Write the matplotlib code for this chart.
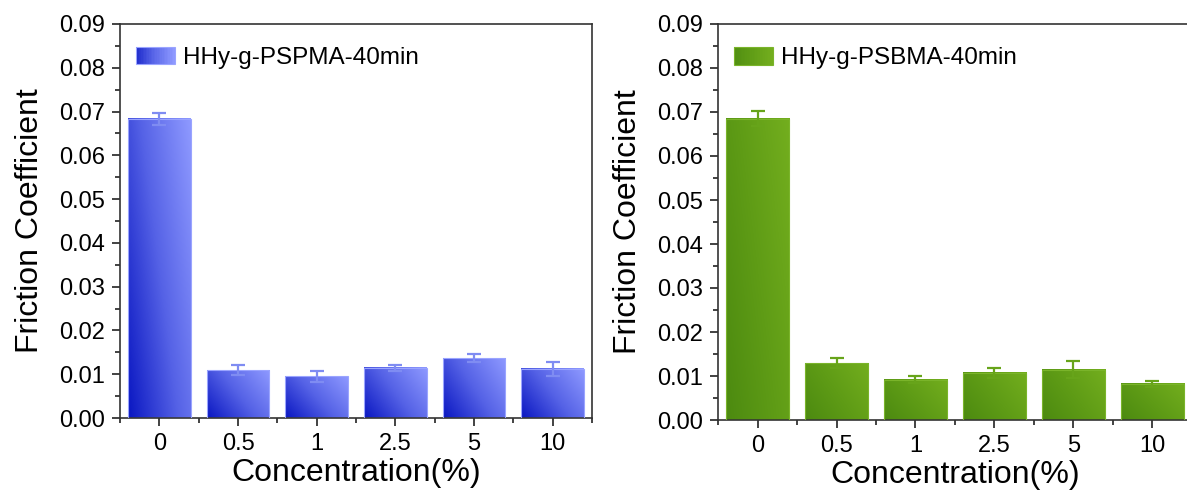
import numpy as np
import matplotlib
matplotlib.use('Agg')
import matplotlib.pyplot as plt
from matplotlib.colors import LinearSegmentedColormap
from matplotlib.legend_handler import HandlerBase
from matplotlib.patches import Rectangle
from matplotlib.ticker import MultipleLocator, FixedLocator

plt.rcParams['font.family'] = ['Liberation Sans', 'DejaVu Sans']

categories = ['0', '0.5', '1', '2.5', '5', '10']
pspma_vals = [0.0683, 0.0109, 0.0095, 0.0115, 0.0137, 0.0112]
pspma_err = [0.0014, 0.0011, 0.0013, 0.0007, 0.0010, 0.0017]
psbma_vals = [0.0685, 0.0129, 0.0092, 0.0107, 0.0114, 0.0082]
psbma_err = [0.0017, 0.0011, 0.0007, 0.0011, 0.0019, 0.0007]

blue_cmap = LinearSegmentedColormap.from_list('blue', ['#0a17c2', '#5562e6', '#8e99ff'])
green_cmap = LinearSegmentedColormap.from_list('green', ['#4c8a10', '#5f9c16', '#73ae1e'])


class GradHandler(HandlerBase):
    def __init__(self, cmap, edge):
        super().__init__()
        self.cmap = cmap
        self.edge = edge

    def create_artists(self, legend, orig_handle, xdescent, ydescent,
                       width, height, fontsize, trans):
        n = 24
        arts = []
        for i in range(n):
            r = Rectangle((-xdescent + i * width / n, -ydescent), width / n + 0.3, height,
                          facecolor=self.cmap(0.15 + 0.85 * i / (n - 1)), edgecolor='none',
                          transform=trans)
            arts.append(r)
        arts.append(Rectangle((-xdescent, -ydescent), width, height, facecolor='none',
                              edgecolor=self.edge, lw=0.8, transform=trans))
        return arts


def draw_panel(ax, vals, errs, cmap, edge, errcol, label):
    x = np.arange(len(categories))
    w = 0.8
    bars = ax.bar(x, vals, width=w, color='none', edgecolor=edge, linewidth=0.8,
                  zorder=3, label=label)
    uu, vv = np.meshgrid(np.linspace(0, 1, 60), np.linspace(0, 1, 120))
    grad = 0.62 * uu + 0.38 * vv
    for b in bars:
        x0, h = b.get_x(), b.get_height()
        ax.imshow(grad, cmap=cmap, extent=[x0, x0 + w, 0, h], origin='lower',
                  aspect='auto', zorder=2, vmin=0, vmax=1, interpolation='bilinear')
    ax.errorbar(x, vals, yerr=errs, fmt='none', ecolor=errcol, elinewidth=1.6,
                capsize=5, capthick=1.6, zorder=4)
    ax.set_xlim(-0.5, len(categories) - 0.5)
    ax.set_ylim(0, 0.09)
    ax.set_xticks(x)
    ax.set_xticklabels(categories)
    ax.xaxis.set_minor_locator(FixedLocator(np.arange(-0.5, len(categories), 1.0)))
    ax.yaxis.set_major_locator(MultipleLocator(0.01))
    ax.yaxis.set_minor_locator(MultipleLocator(0.005))
    ax.yaxis.set_major_formatter(matplotlib.ticker.FormatStrFormatter('%.2f'))
    ax.tick_params(which='major', direction='out', length=6, width=1.2, labelsize=17,
                   color='#222222', pad=5)
    ax.tick_params(which='minor', direction='out', length=3.5, width=1.2, color='#222222')
    for s in ax.spines.values():
        s.set_linewidth(1.2)
        s.set_color('#333333')
    ax.set_xlabel('Concentration(%)', fontsize=23, labelpad=2)
    ax.set_ylabel('Friction Coefficient', fontsize=23, labelpad=10)
    ax.legend(handler_map={bars: GradHandler(cmap, edge)}, loc='upper left',
              bbox_to_anchor=(0.034, 0.942), borderaxespad=0, borderpad=0,
              frameon=False, fontsize=17.5, handlelength=1.6, handleheight=0.74,
              handletextpad=0.33)


fig = plt.figure(figsize=(11.87, 4.90), dpi=100)
ax1 = fig.add_axes([120 / 1187, 72 / 490, 472 / 1187, 394 / 490])
ax2 = fig.add_axes([718 / 1187, 70 / 490, 474 / 1187, 396 / 490])

draw_panel(ax1, pspma_vals, pspma_err, blue_cmap, '#9aa4ff', '#7f8cf2', 'HHy-g-PSPMA-40min')
draw_panel(ax2, psbma_vals, psbma_err, green_cmap, '#7ab42a', '#67a41a', 'HHy-g-PSBMA-40min')

fig.savefig('out.png', dpi=100)
